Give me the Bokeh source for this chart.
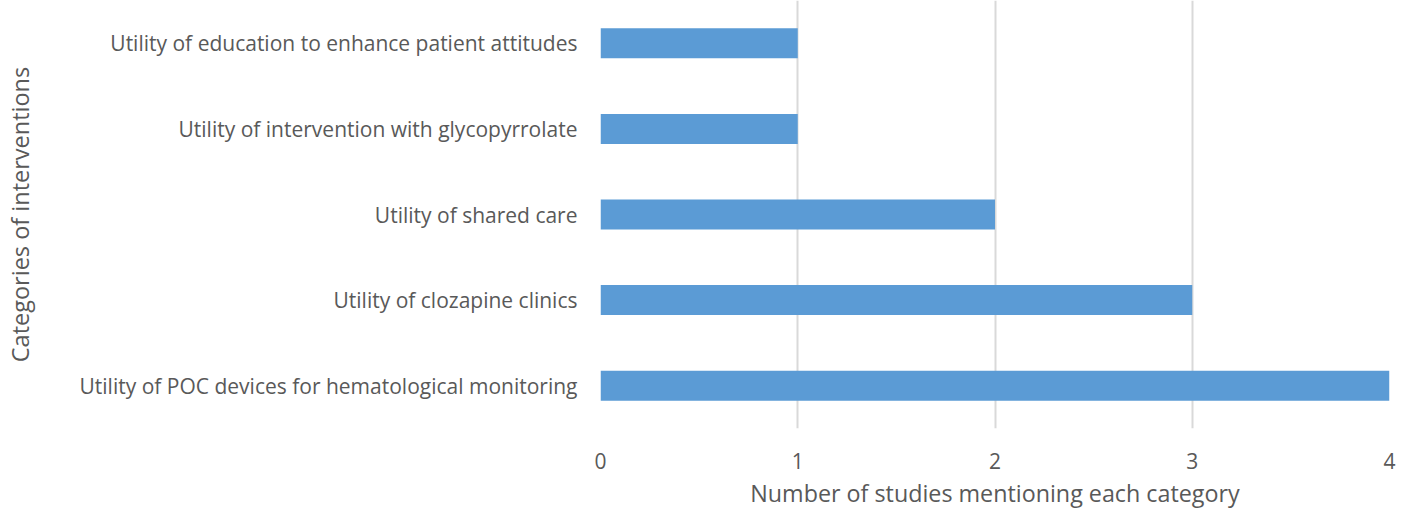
from bokeh.plotting import figure
from bokeh.models import Range1d, FixedTicker, ColumnDataSource
from bokeh.embed import file_html
from bokeh.resources import INLINE

# Data (bottom to top)
categories = [
    "Utility of POC devices for hematological monitoring",
    "Utility of clozapine clinics",
    "Utility of shared care",
    "Utility of intervention with glycopyrrolate",
    "Utility of education to enhance patient attitudes",
]
counts = [4, 3, 2, 1, 1]
x_ticks = [0, 1, 2, 3, 4]

FONT = "Open Sans"
TXT = "#595959"

pos = list(range(len(categories)))
src = ColumnDataSource(dict(y=pos, right=counts, cat=categories))

p = figure(width=1416, height=512, output_backend="svg", toolbar_location=None,
           x_range=Range1d(0, 4), y_range=Range1d(-0.5, 4.5),
           min_border_left=600, min_border_right=27, min_border_top=0, min_border_bottom=84)
p.outline_line_color = None
p.background_fill_color = "white"
p.border_fill_color = "white"

p.hbar(y="y", left=0, right="right", height=0.35, source=src,
       fill_color="#5B9BD5", line_color=None)

# x axis
p.xaxis.ticker = FixedTicker(ticks=x_ticks)
p.xaxis.axis_line_color = None
p.xaxis.major_tick_line_color = None
p.xaxis.minor_tick_line_color = None
p.xaxis.major_label_text_font = FONT
p.xaxis.major_label_text_font_size = "21px"
p.xaxis.major_label_text_color = TXT
p.xaxis.major_label_standoff = 18
p.xaxis.axis_label = "Number of studies mentioning each category"
p.xaxis.axis_label_text_font = FONT
p.xaxis.axis_label_text_font_size = "23.3px"
p.xaxis.axis_label_text_font_style = "normal"
p.xaxis.axis_label_text_color = TXT
p.xaxis.axis_label_standoff = 5

# y axis
p.yaxis.ticker = FixedTicker(ticks=pos)
p.yaxis.major_label_overrides = {i: c for i, c in zip(pos, categories)}
p.yaxis.axis_line_color = None
p.yaxis.major_tick_line_color = None
p.yaxis.minor_tick_line_color = None
p.yaxis.major_label_text_font = FONT
p.yaxis.major_label_text_font_size = "21px"
p.yaxis.major_label_text_color = TXT
p.yaxis.major_label_standoff = 17
p.yaxis.axis_label = "Categories of interventions"
p.yaxis.axis_label_text_font = FONT
p.yaxis.axis_label_text_font_size = "23.5px"
p.yaxis.axis_label_text_font_style = "normal"
p.yaxis.axis_label_text_color = TXT
p.yaxis.axis_label_standoff = 40

p.xgrid.grid_line_color = "#D9D9D9"
p.xgrid.grid_line_width = 2
p.ygrid.grid_line_color = None

open("out.html", "w").write(file_html(p, INLINE))
